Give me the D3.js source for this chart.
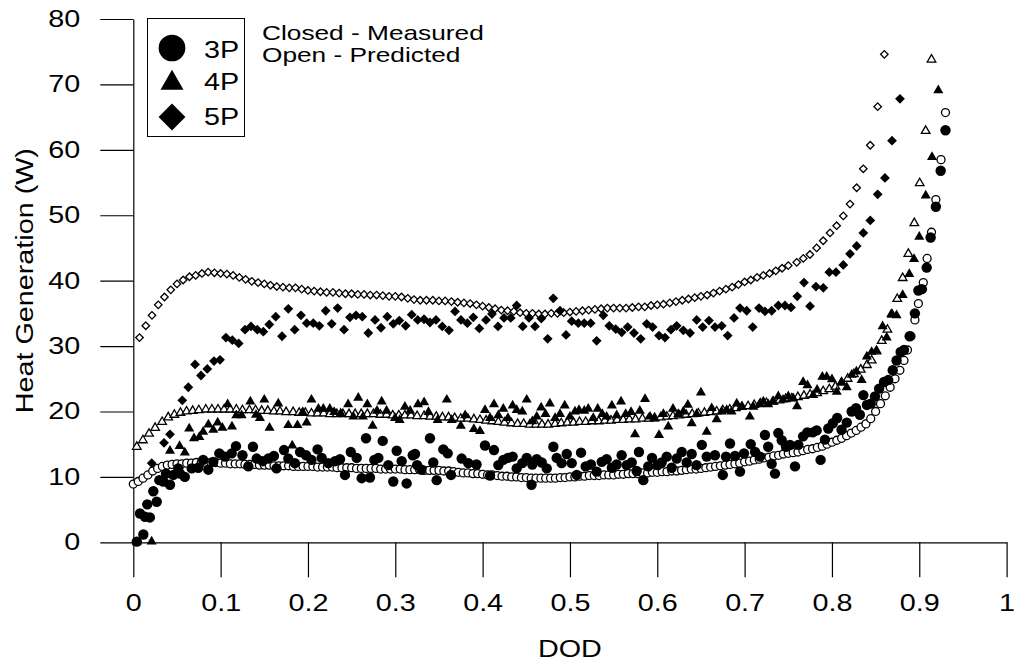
<!DOCTYPE html>
<html>
<head>
<meta charset="utf-8">
<script src="https://cdn.jsdelivr.net/npm/d3@7"></script>
<style>
  body { margin: 0; background: #fff; }
  svg text { font-family: "Liberation Sans", Arial, sans-serif; fill: #000; }
</style>
</head>
<body>
<div id="plot"></div>
<script>
// axis ticks
var xTicks = [0, 0.1, 0.2, 0.3, 0.4, 0.5, 0.6, 0.7, 0.8, 0.9, 1];
var xTickLabels = ['0', '0.1', '0.2', '0.3', '0.4', '0.5', '0.6', '0.7', '0.8', '0.9', '1'];
var yTicks = [0, 10, 20, 30, 40, 50, 60, 70, 80];

var legendLabels = ['3P', '4P', '5P'];
var noteLines = ['Closed - Measured', 'Open - Predicted'];

// [DOD, heat W]
// predicted (open symbols)
var pred3P = [[0,8.9],[.0056,9.3],[.0111,9.8],[.0167,10.3],[.0222,10.9],[.0278,11.3],[.0333,11.6],[.0389,11.8],[.0444,11.9],
[.05,12.0],[.0556,12.0],[.0611,12.1],[.0667,12.1],[.0722,12.2],[.0778,12.2],[.0833,12.2],[.0889,12.2],[.0944,12.2],
[.1,12.1],[.1056,12.1],[.1111,12.0],[.1167,12.0],[.1222,12.0],[.1278,11.9],[.1333,11.9],[.1389,11.9],[.1444,11.8],
[.15,11.8],[.1556,11.8],[.1611,11.7],[.1667,11.7],[.1722,11.7],[.1778,11.7],[.1833,11.6],[.1889,11.6],[.1944,11.6],
[.2,11.6],[.2056,11.6],[.2111,11.5],[.2167,11.5],[.2222,11.5],[.2278,11.5],[.2333,11.4],[.2389,11.4],[.2444,11.4],
[.25,11.4],[.2556,11.3],[.2611,11.3],[.2667,11.3],[.2722,11.3],[.2778,11.3],[.2833,11.2],[.2889,11.2],[.2944,11.2],
[.3,11.2],[.3056,11.2],[.3111,11.1],[.3167,11.1],[.3222,11.1],[.3278,11.1],[.3333,11.0],[.3389,11.0],[.3444,11.0],
[.35,11.0],[.3556,10.9],[.3611,10.9],[.3667,10.8],[.3722,10.7],[.3778,10.6],[.3833,10.6],[.3889,10.5],[.3944,10.5],
[.4,10.4],[.4056,10.3],[.4111,10.3],[.4167,10.2],[.4222,10.1],[.4278,10.1],[.4333,10.0],[.4389,10.0],[.4444,9.9],
[.45,9.9],[.4556,9.8],[.4611,9.8],[.4667,9.8],[.4722,9.8],[.4778,9.8],[.4833,9.8],[.4889,9.9],[.4944,9.9],
[.5,10.0],[.5056,10.0],[.5111,10.1],[.5167,10.1],[.5222,10.2],[.5278,10.2],[.5333,10.2],[.5389,10.3],[.5444,10.3],
[.55,10.3],[.5556,10.4],[.5611,10.4],[.5667,10.5],[.5722,10.5],[.5778,10.5],[.5833,10.6],[.5889,10.6],[.5944,10.7],
[.6,10.7],[.6056,10.8],[.6111,10.8],[.6167,10.9],[.6222,10.9],[.6278,11.0],[.6333,11.1],[.6389,11.2],[.6444,11.2],
[.65,11.3],[.6556,11.4],[.6611,11.5],[.6667,11.6],[.6722,11.7],[.6778,11.8],[.6833,11.9],[.6889,12.0],[.6944,12.1],
[.7,12.3],[.7056,12.4],[.7111,12.6],[.7167,12.7],[.7222,12.9],[.7278,13.0],[.7333,13.2],[.7389,13.3],[.7444,13.5],
[.75,13.6],[.7556,13.7],[.7611,13.8],[.7667,14.0],[.7722,14.2],[.7778,14.3],[.7833,14.5],[.7889,14.7],[.7944,15.0],
[.8,15.3],[.8056,15.6],[.8111,15.9],[.8167,16.3],[.8222,16.7],[.8278,17.1],[.8333,17.6],[.8389,18.1],[.8444,18.9],
[.85,20.0],[.8556,21.2],[.8611,22.4],[.8667,23.7],[.8722,25.0],[.8778,26.3],[.8825,27.8],[.8865,29.4],[.8905,31.5],
[.895,34.0],[.899,36.5],[.9046,39.7],[.909,43.4],[.914,47.4],[.919,52.4],[.9249,58.5],[.930,65.7]];

var pred4P = [[.004,14.6],[.011,15.6],[.018,16.6],[.025,17.5],[.033,18.4],[.040,19.1],[.047,19.5],[.054,19.8],[.061,20.0],
[.068,20.1],[.075,20.2],[.083,20.3],[.090,20.3],[.097,20.3],[.104,20.3],[.111,20.3],[.118,20.3],[.125,20.2],[.133,20.2],
[.140,20.2],[.147,20.1],[.154,20.1],[.161,20.0],[.168,20.0],[.175,19.9],[.183,19.9],[.190,19.8],[.197,19.8],[.204,19.7],
[.211,19.7],[.218,19.7],[.225,19.6],[.233,19.6],[.240,19.6],[.247,19.6],[.254,19.6],[.261,19.6],[.268,19.6],[.275,19.6],
[.283,19.5],[.290,19.5],[.297,19.4],[.304,19.4],[.311,19.4],[.318,19.4],[.325,19.3],[.333,19.3],[.340,19.2],[.347,19.2],
[.354,19.1],[.361,19.1],[.368,19.0],[.375,18.9],[.383,18.9],[.390,18.8],[.397,18.7],[.404,18.6],[.411,18.5],[.418,18.4],
[.425,18.3],[.433,18.2],[.440,18.1],[.447,18.1],[.454,18.0],[.461,18.0],[.468,18.0],[.475,18.0],[.483,18.1],[.490,18.2],
[.497,18.3],[.504,18.3],[.511,18.4],[.518,18.4],[.525,18.5],[.533,18.5],[.540,18.6],[.547,18.6],[.554,18.7],[.561,18.7],
[.568,18.8],[.575,18.8],[.583,18.9],[.590,18.9],[.597,19.0],[.604,19.1],[.611,19.2],[.618,19.3],[.625,19.4],[.633,19.5],
[.640,19.6],[.647,19.7],[.654,19.8],[.661,19.9],[.668,20.0],[.675,20.2],[.683,20.3],[.690,20.5],[.697,20.7],[.704,20.8],
[.711,21.0],[.718,21.2],[.725,21.3],[.733,21.5],[.740,21.7],[.747,21.9],[.754,22.0],[.761,22.2],[.768,22.4],[.775,22.6],
[.783,22.8],[.790,23.1],[.797,23.4],[.804,23.8],[.811,24.4],[.818,25.0],[.825,25.7],[.833,26.4],[.840,27.1],[.8455,27.8],
[.851,29.2],[.857,30.8],[.8635,32.5],[.869,34.8],[.8748,37.2],[.881,40.4],[.8875,44.1],[.8943,48.8],[.9005,54.9],
[.9073,62.9],[.914,73.8]];

var pred5P = [[.0071,31.3],[.0143,33.1],[.0214,34.7],[.0286,36.3],[.0357,37.5],[.0429,38.6],[.05,39.5],[.0571,40.1],
[.0643,40.6],[.0714,40.8],[.0786,41.1],[.0857,41.3],[.0929,41.2],[.1,41.1],[.1071,41.0],[.1143,40.8],[.1214,40.5],
[.1286,40.2],[.1357,39.9],[.1429,39.7],[.15,39.5],[.1571,39.3],[.1643,39.1],[.1714,39.0],[.1786,38.9],[.1857,38.9],
[.1929,38.7],[.2,38.5],[.2071,38.4],[.2143,38.3],[.2214,38.2],[.2286,38.2],[.2357,38.1],[.2429,38.0],[.25,38.0],
[.2571,37.9],[.2643,37.9],[.2714,37.8],[.2786,37.8],[.2857,37.7],[.2929,37.6],[.3,37.6],[.3071,37.5],[.3143,37.3],
[.3214,37.1],[.3286,37.0],[.3357,37.0],[.3429,37.0],[.35,36.9],[.3571,36.9],[.3643,36.8],[.3714,36.7],[.3786,36.6],
[.3857,36.5],[.3929,36.3],[.4,36.1],[.4071,35.9],[.4143,35.7],[.4214,35.5],[.4286,35.4],[.4357,35.3],[.4429,35.1],
[.45,35.0],[.4571,35.0],[.4643,34.9],[.4714,34.9],[.4786,35.0],[.4857,35.0],[.4929,35.1],[.5,35.2],[.5071,35.3],
[.5143,35.4],[.5214,35.5],[.5286,35.6],[.5357,35.7],[.5429,35.8],[.55,35.8],[.5571,35.8],[.5643,35.8],[.5714,35.9],
[.5786,36.0],[.5857,36.0],[.5929,36.2],[.6,36.3],[.6071,36.4],[.6143,36.6],[.6214,36.8],[.6286,37.0],[.6357,37.2],
[.6429,37.4],[.65,37.6],[.6571,37.8],[.6643,38.1],[.6714,38.4],[.6786,38.7],[.6857,39.0],[.6929,39.4],[.7,39.8],
[.7071,40.1],[.7143,40.5],[.7214,40.8],[.7286,41.1],[.7357,41.5],[.7429,41.9],[.75,42.3],[.7597,42.8],[.7672,43.4],
[.7748,44.0],[.7825,45.0],[.790,46.1],[.7978,47.3],[.8054,48.4],[.813,49.9],[.8207,51.7],[.8283,54.2],[.8359,57.1],
[.8439,60.7],[.8524,66.6],[.860,74.6]];

// measured (filled symbols)
var meas3P = [[.004,0.1],[.0077,4.4],[.0115,1.2],[.0134,3.9],[.016,5.8],[.019,3.8],[.0229,7.8],[.0268,6.2],[.0298,9.5],
[.0344,9.3],[.0374,10.5],[.042,8.8],[.0458,10.3],[.0515,11.3],[.0535,10.5],[.059,10.0],[.0669,11.3],[.0744,11.4],
[.080,12.6],[.0859,11.1],[.0916,12.3],[.0985,13.6],[.105,13.1],[.1127,13.6],[.1176,14.7],[.125,13.3],[.1317,11.6],
[.137,14.6],[.1413,12.8],[.148,12.4],[.1546,12.8],[.161,13.2],[.164,11.3],[.1726,14.1],[.1775,12.8],[.185,12.1],
[.191,13.8],[.1978,13.3],[.204,12.6],[.211,14.2],[.2157,12.9],[.2233,12.1],[.231,12.4],[.2367,12.7],[.2424,10.3],
[.249,13.8],[.2558,12.9],[.2615,9.8],[.2665,15.9],[.271,9.9],[.276,12.6],[.2806,12.9],[.2856,15.5],[.292,11.8],
[.2977,9.3],[.3016,14.0],[.3073,12.4],[.313,9.0],[.320,13.3],[.3226,13.5],[.325,11.8],[.330,11.1],[.3397,15.9],
[.3435,12.2],[.3474,9.5],[.355,14.2],[.360,13.6],[.3638,10.3],[.376,12.8],[.3836,12.1],[.393,11.9],[.4027,14.8],
[.4085,10.2],[.413,14.1],[.418,11.8],[.4237,12.6],[.429,12.9],[.4344,13.1],[.439,11.3],[.4454,12.1],[.4505,12.9],
[.456,8.8],[.4569,11.9],[.462,12.7],[.4677,12.2],[.4734,11.3],[.481,14.6],[.4848,12.9],[.4905,12.1],[.4963,13.5],
[.502,12.1],[.5077,10.3],[.5127,13.7],[.518,11.6],[.524,11.9],[.5306,10.8],[.5364,12.3],[.542,12.7],[.548,11.4],
[.5535,11.9],[.5592,13.3],[.565,11.8],[.5707,12.2],[.5764,10.9],[.579,13.8],[.584,9.5],[.5897,11.6],[.594,12.9],
[.6005,11.8],[.605,12.2],[.6108,13.1],[.6165,11.4],[.6222,12.8],[.628,13.8],[.6337,12.2],[.6394,13.5],[.645,11.8],
[.651,14.9],[.6566,13.1],[.666,13.3],[.675,10.3],[.6787,13.1],[.6833,15.1],[.689,13.2],[.6947,10.8],[.6993,13.6],
[.707,15.0],[.712,13.8],[.7176,13.1],[.7233,16.4],[.727,14.6],[.731,12.0],[.7348,10.5],[.7386,16.7],[.7425,15.6],
[.7474,14.6],[.752,14.9],[.7577,11.6],[.7615,14.9],[.767,16.2],[.7718,16.8],[.778,16.8],[.7825,17.1],[.787,12.6],
[.792,15.7],[.7958,17.4],[.801,18.2],[.806,19.0],[.811,17.2],[.817,18.3],[.8226,20.0],[.8276,20.5],[.832,19.5],
[.836,22.5],[.840,21.0],[.8444,21.2],[.8493,22.3],[.854,23.5],[.8596,24.5],[.8645,24.8],[.8696,26.3],[.874,27.8],
[.8787,29.1],[.8825,29.4],[.889,31.5],[.895,35.0],[.899,38.5],[.903,38.7],[.9085,42.0],[.913,46.6],[.919,51.3],
[.9245,56.8],[.930,63.0]];

var meas4P = [[.004,0.0],[.021,0.1],[.042,14.0],[.053,14.7],[.059,13.7],[.064,17.4],[.0695,15.9],[.0756,16.1],[.080,16.9],
[.086,18.0],[.0916,17.2],[.0966,18.3],[.102,17.5],[.108,21.1],[.113,17.7],[.118,19.4],[.124,19.4],[.134,21.5],
[.1405,19.5],[.145,19.0],[.150,21.8],[.156,17.5],[.166,21.2],[.1775,17.9],[.182,14.8],[.188,17.9],[.194,19.9],
[.1985,18.3],[.204,21.8],[.212,20.4],[.2176,20.4],[.225,20.4],[.230,19.9],[.2375,19.7],[.246,21.1],[.252,19.2],
[.2576,22.1],[.263,19.2],[.268,21.1],[.274,17.8],[.279,20.1],[.2844,21.5],[.290,20.1],[.2997,19.0],[.305,18.7],
[.311,20.7],[.317,20.1],[.326,21.1],[.333,21.4],[.338,19.9],[.3485,18.7],[.359,21.8],[.3646,18.7],[.375,17.8],
[.380,19.4],[.390,17.3],[.397,17.0],[.4027,20.2],[.4085,19.0],[.413,21.1],[.418,19.4],[.4237,20.4],[.429,19.0],
[.4344,20.9],[.439,20.2],[.4454,20.0],[.4505,21.8],[.457,18.5],[.462,19.2],[.467,20.6],[.472,19.6],[.477,21.2],
[.483,19.0],[.4886,19.6],[.494,20.9],[.500,19.2],[.5058,20.0],[.5104,20.2],[.5164,20.1],[.521,20.4],[.5267,19.0],
[.5318,20.4],[.537,19.6],[.542,19.2],[.548,20.9],[.5535,19.4],[.5585,21.5],[.5638,19.6],[.570,19.9],[.5745,16.5],
[.580,20.1],[.586,21.9],[.5917,19.2],[.5966,18.9],[.602,16.4],[.607,19.6],[.6126,17.7],[.618,20.4],[.624,19.6],
[.6298,20.0],[.635,21.0],[.6394,18.2],[.645,19.6],[.650,22.9],[.6566,16.9],[.6623,20.5],[.668,18.8],[.6738,20.0],
[.6795,20.2],[.685,20.0],[.691,21.2],[.6967,20.7],[.706,19.2],[.710,20.7],[.717,21.1],[.7214,21.5],[.727,21.1],
[.732,21.5],[.7386,22.3],[.744,21.8],[.750,22.3],[.7557,22.0],[.760,20.8],[.767,24.5],[.772,24.0],[.7786,22.5],
[.783,23.3],[.789,25.3],[.794,25.3],[.800,24.9],[.8055,23.0],[.811,24.5],[.817,23.7],[.8226,25.6],[.828,26.1],
[.834,24.8],[.840,28.4],[.8455,29.1],[.851,29.3],[.858,33.0],[.8627,31.3],[.868,34.9],[.874,34.7],[.881,37.8],
[.8886,41.0],[.894,43.3],[.900,46.7],[.9074,53.0],[.9146,58.9],[.9218,69.1]];

var meas5P = [[.0211,12.1],[.0352,15.2],[.042,16.5],[.0561,21.7],[.063,23.7],[.0707,27.2],[.0775,25.5],[.0847,26.5],
[.0924,27.7],[.0993,27.9],[.1061,31.3],[.1134,30.9],[.1207,30.4],[.1279,32.5],[.1348,33.0],[.142,32.5],[.1489,32.2],
[.1557,33.3],[.1631,34.5],[.1703,31.5],[.1775,35.7],[.1848,32.5],[.192,34.7],[.1986,33.5],[.2061,33.5],[.213,33.1],
[.2203,35.4],[.2272,33.4],[.234,35.8],[.2413,32.5],[.2481,34.4],[.255,34.7],[.2622,34.5],[.2691,32.0],[.2768,34.0],
[.2836,32.8],[.2908,34.5],[.2977,33.4],[.3046,33.9],[.3119,33.1],[.3188,34.8],[.3257,34.0],[.3329,34.1],[.3397,33.6],
[.3466,34.0],[.3538,33.0],[.3615,32.4],[.3684,35.3],[.3752,34.0],[.3825,33.5],[.3893,34.4],[.3962,32.7],[.4039,34.0],
[.4107,34.9],[.4176,33.0],[.4245,34.3],[.4322,34.3],[.439,36.2],[.4459,33.0],[.4531,34.3],[.46,33.0],[.4672,34.2],
[.4745,31.1],[.4809,37.3],[.4886,35.4],[.4955,31.7],[.502,33.8],[.5096,33.5],[.5164,33.5],[.5237,33.5],[.5306,30.8],
[.5382,34.7],[.545,33.1],[.5524,32.6],[.5593,32.1],[.5661,32.9],[.5733,32.0],[.581,31.1],[.5879,33.4],[.5947,32.9],
[.602,31.6],[.6088,31.3],[.6157,32.5],[.6222,33.1],[.6298,32.4],[.6375,32.0],[.6451,34.0],[.652,32.9],[.6592,33.9],
[.6661,32.9],[.6738,33.1],[.6806,31.6],[.6879,34.3],[.6947,35.8],[.7024,35.4],[.7093,32.9],[.7165,35.8],[.7233,35.3],
[.731,35.4],[.7386,36.2],[.7462,36.2],[.7531,35.9],[.7603,37.6],[.768,39.7],[.7749,36.1],[.7817,39.1],[.7901,38.9],
[.797,41.3],[.8046,41.3],[.813,42.4],[.8207,44.1],[.8283,45.3],[.8359,47.3],[.8439,49.2],[.8524,53.2],[.8607,55.7],
[.8688,61.4],[.8779,67.8]];

window.addEventListener('load', main);

function main(){
  var width = 1014, height = 662;
  var stretch = 1.25; // the original lettering is wide

  var svg = d3.select('#plot')
    .append('svg')
      .attr('width', width)
      .attr('height', height);

  var x = d3.scaleLinear().domain([0, 1]).range([133.3, 1006.6]);
  var y = d3.scaleLinear().domain([0, 80]).range([542.3, 19]);

  // axes
  var xAxis = d3.axisBottom(x)
    .tickValues(xTicks)
    .tickFormat(function(d, i) { return xTickLabels[i]; })
    .tickSize(35).tickSizeOuter(0).tickPadding(17);
  var yAxis = d3.axisLeft(y)
    .tickValues(yTicks)
    .tickSize(33).tickSizeOuter(0).tickPadding(20);

  var gx = svg.append('g').attr('transform', 'translate(0,' + y(0) + ')').call(xAxis);
  var gy = svg.append('g').attr('transform', 'translate(' + x(0) + ',0)').call(yAxis);
  [gx, gy].forEach(function(g) {
    g.selectAll('path, line').attr('stroke', '#000').attr('stroke-width', 1.2);
    g.selectAll('text')
      .attr('font-size', 23)
      .attr('font-family', '"Liberation Sans", Arial, sans-serif')
      .each(function() {
        var t = d3.select(this);
        t.attr('x', (+t.attr('x') || 0) / stretch).attr('transform', 'scale(' + stretch + ',1)');
      });
  });

  // symbols
  function sym(kind, size) {
    var t = kind === 'circle' ? d3.symbolCircle : kind === 'triangle' ? d3.symbolTriangle : d3.symbolSquare;
    return d3.symbol().type(t).size(size)();
  }

  function drawSeries(data, kind, size, filled) {
    var rot = kind === 'diamond' ? ' rotate(45)' : '';
    svg.append('g')
      .selectAll('path')
      .data(data)
      .join('path')
        .attr('transform', function(d) { return 'translate(' + x(d[0]) + ',' + y(d[1]) + ')' + rot; })
        .attr('d', sym(kind, size))
        .attr('fill', filled ? '#000' : '#fff')
        .attr('stroke', filled ? 'none' : '#000')
        .attr('stroke-width', 1.3);
  }

  drawSeries(pred5P, 'diamond', 28, false);
  drawSeries(pred4P, 'triangle', 32, false);
  drawSeries(pred3P, 'circle', 50, false);
  drawSeries(meas5P, 'diamond', 48, true);
  drawSeries(meas4P, 'triangle', 44, true);
  drawSeries(meas3P, 'circle', 85, true);

  // text placed at (px, py), widened like the original
  function label(str, px, py, size, anchor, rot) {
    return svg.append('text')
      .attr('transform', 'translate(' + px + ',' + py + ')' + (rot ? ' rotate(' + rot + ')' : '') + ' scale(' + stretch + ',1)')
      .attr('text-anchor', anchor || 'start')
      .attr('font-size', size)
      .text(str);
  }

  // legend box
  svg.append('rect')
    .attr('x', 147.5).attr('y', 18.5)
    .attr('width', 97).attr('height', 118)
    .attr('fill', '#fff').attr('stroke', '#000').attr('stroke-width', 1);

  var legKinds = [['circle', 560], ['triangle', 230], ['diamond', 360]];
  var legY = [48, 83, 117];
  var legBase = [58, 90, 125];
  legKinds.forEach(function(k, i) {
    svg.append('path')
      .attr('transform', 'translate(172,' + legY[i] + ')' + (k[0] === 'diamond' ? ' rotate(45)' : ''))
      .attr('d', sym(k[0], k[1]))
      .attr('fill', '#000');
    label(legendLabels[i], 204, legBase[i], 23);
  });

  noteLines.forEach(function(s, i) {
    label(s, 262, 40 + i * 21.5, 21);
  });

  // axis titles
  label('DOD', x(0.5), 657, 23, 'middle');
  label('Heat Generation (W)', 33, y(40), 23, 'middle', -90);
}
</script>
</body>
</html>
